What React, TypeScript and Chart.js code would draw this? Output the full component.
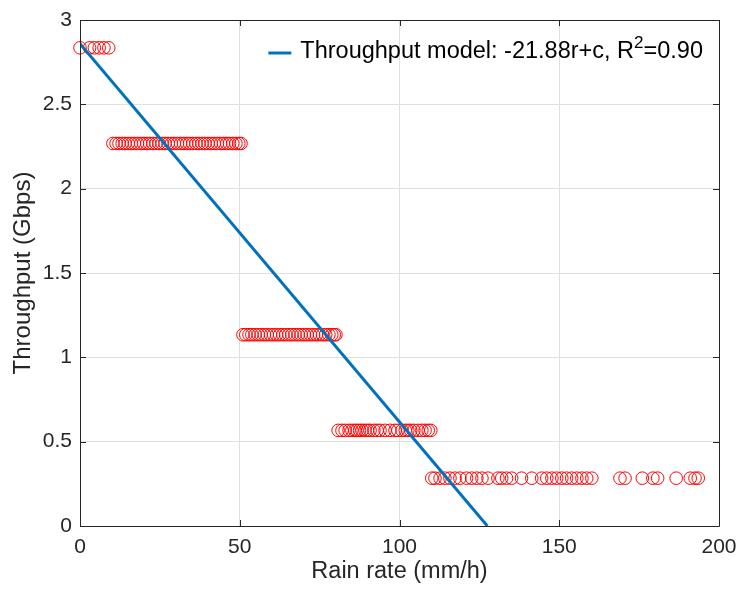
import React, { useEffect, useRef } from "react";
import { Chart, registerables } from "chart.js";

Chart.register(...registerables);

// Discrete throughput levels (Gbps)
const levels = [2.835, 2.268, 1.134, 0.567, 0.2835];

// Rain rates (mm/h) observed at each level
const rainLevel1 = [0, 3, 4.5, 6, 7.5, 9];
const rainLevel2 = [
  10.3, 11.3, 12.2, 13.2, 14.1, 15.1, 16.1, 17, 18, 19, 19.9, 20.9, 21.8, 22.8,
  23.8, 24.7, 25.7, 26.6, 27.6, 28.6, 29.5, 30.5, 31.5, 32.4, 33.4, 34.3, 35.3,
  36.3, 37.2, 38.2, 39.1, 40.1, 41.1, 42, 43, 44, 44.9, 45.9, 46.8, 47.8, 48.8,
  49.7, 50.4,
];
const rainLevel3 = [
  51, 51.9, 52.9, 53.8, 54.8, 55.8, 56.7, 57.7, 58.6, 59.6, 60.6, 61.5, 62.5,
  63.5, 64.4, 65.4, 66.3, 67.3, 68.3, 69.2, 70.2, 71.1, 72.1, 73.1, 74, 75,
  75.9, 76.9, 77.9, 78.8, 79.6, 80.1,
];
const rainLevel4 = [
  80.8, 82, 83, 84.2, 85.1, 86, 86.7, 87.5, 88.3, 89.2, 90, 90.8, 92, 93, 93.9,
  95.5, 97, 98.6, 99.5, 100.8, 101.8, 102.6, 103.5, 104.5, 105.8, 107, 108,
  109, 109.8,
];
const rainLevel5 = [
  110.1, 111.1, 112.7, 114.2, 115.8, 117.4, 118.9, 121, 122.6, 124.2, 125.8,
  127.7, 130.8, 132, 133.5, 135.1, 138.2, 141.4, 144.5, 146.1, 147.7, 149.2,
  150.8, 152.3, 153.9, 155.5, 157.1, 158.6, 160.2, 169, 170.6, 176, 179.3,
  180.8, 186.6, 191, 192.5, 193.5,
];

// Fitted model line end points (rain rate, throughput)
const modelRain = [0, 127.5];
const modelThroughput = [2.86, 0];

const xTicks = [0, 50, 100, 150, 200];
const yTicks = [0, 0.5, 1, 1.5, 2, 2.5, 3];

const legendMain = "Throughput model: -21.88r+c, R";
const legendSup = "2";
const legendTail = "=0.90";

const FONT = "'Liberation Sans', Arial, Helvetica, sans-serif";
const TEXT = "#262626";

const boxPlugin = {
  id: "matlabBox",
  afterDraw(chart: any) {
    const { ctx, chartArea } = chart;
    const { left, right, top, bottom } = chartArea;
    const xs = chart.scales.x;
    const ys = chart.scales.y;
    ctx.save();
    ctx.strokeStyle = TEXT;
    ctx.lineWidth = 1;
    ctx.beginPath();
    ctx.rect(Math.round(left) + 0.5, Math.round(top) + 0.5, Math.round(right - left), Math.round(bottom - top));
    ctx.stroke();
    const tl = 6;
    ctx.beginPath();
    xTicks.forEach((v) => {
      const px = Math.round(xs.getPixelForValue(v)) + 0.5;
      ctx.moveTo(px, bottom);
      ctx.lineTo(px, bottom - tl);
      ctx.moveTo(px, top);
      ctx.lineTo(px, top + tl);
    });
    yTicks.forEach((v) => {
      const py = Math.round(ys.getPixelForValue(v)) + 0.5;
      ctx.moveTo(left, py);
      ctx.lineTo(left + tl, py);
      ctx.moveTo(right, py);
      ctx.lineTo(right - tl, py);
    });
    ctx.stroke();

    // Legend
    const fs = 23.5;
    const mainFont = `${fs}px ${FONT}`;
    const supFont = `${Math.round(fs * 0.72)}px ${FONT}`;
    ctx.font = mainFont;
    const w1 = ctx.measureText(legendMain).width;
    const w3 = ctx.measureText(legendTail).width;
    ctx.font = supFont;
    const w2 = ctx.measureText(legendSup).width;
    const total = w1 + w2 + w3;
    const cy = top + 32;
    const textRight = right - 16;
    const textLeft = textRight - total;
    ctx.strokeStyle = "#0072BD";
    ctx.lineWidth = 3;
    ctx.beginPath();
    ctx.moveTo(textLeft - 32, cy + 1);
    ctx.lineTo(textLeft - 9, cy + 1);
    ctx.stroke();
    ctx.fillStyle = "#000000";
    ctx.textBaseline = "middle";
    ctx.textAlign = "left";
    ctx.font = mainFont;
    ctx.fillText(legendMain, textLeft, cy);
    ctx.font = supFont;
    ctx.fillText(legendSup, textLeft + w1, cy - 9);
    ctx.font = mainFont;
    ctx.fillText(legendTail, textLeft + w1 + w2, cy);
    ctx.restore();
  },
};

export default function App() {
  const ref = useRef<HTMLCanvasElement | null>(null);

  useEffect(() => {
    if (!ref.current) return;
    const groups = [rainLevel1, rainLevel2, rainLevel3, rainLevel4, rainLevel5];
    const points: { x: number; y: number }[] = [];
    groups.forEach((g, i) => g.forEach((r) => points.push({ x: r, y: levels[i] })));
    const line = modelRain.map((r, i) => ({ x: r, y: modelThroughput[i] }));

    const chart = new Chart(ref.current, {
      type: "scatter",
      data: {
        datasets: [
          {
            label: "model",
            data: line,
            showLine: true,
            borderColor: "#0072BD",
            borderWidth: 3,
            pointRadius: 0,
            fill: false,
          } as any,
          {
            label: "measured",
            data: points,
            pointStyle: "circle",
            pointRadius: 6.3,
            borderColor: "#ff0000",
            backgroundColor: "rgba(0,0,0,0)",
            borderWidth: 1,
            clip: false,
          } as any,
        ],
      },
      options: {
        animation: false,
        responsive: false,
        maintainAspectRatio: false,
        devicePixelRatio: 1,
        layout: { padding: { left: 0, right: 21, top: 20, bottom: 0 } },
        plugins: { legend: { display: false }, tooltip: { enabled: false } },
        scales: {
          x: {
            type: "linear",
            min: 0,
            max: 200,
            afterFit: (s: any) => {
              s.height = 66;
              s.paddingLeft = 0;
              s.paddingRight = 0;
            },
            afterBuildTicks: (s: any) => {
              s.ticks = xTicks.map((v) => ({ value: v }));
            },
            ticks: {
              color: TEXT,
              font: { family: FONT, size: 21 },
              padding: 9,
              callback: (v: any) => String(v),
            },
            grid: { color: "#dfdfdf", drawTicks: false },
            border: { display: false },
            title: {
              display: true,
              text: "Rain rate (mm/h)",
              color: TEXT,
              font: { family: FONT, size: 23.5 },
              padding: { top: 0, bottom: 6 },
            },
          },
          y: {
            type: "linear",
            min: 0,
            max: 3,
            afterFit: (s: any) => {
              s.width = 80;
              s.paddingTop = 0;
              s.paddingBottom = 0;
            },
            afterBuildTicks: (s: any) => {
              s.ticks = yTicks.map((v) => ({ value: v }));
            },
            ticks: {
              color: TEXT,
              font: { family: FONT, size: 21 },
              padding: 8,
              callback: (v: any) => String(v),
            },
            grid: { color: "#dfdfdf", drawTicks: false },
            border: { display: false },
            title: {
              display: true,
              text: "Throughput (Gbps)",
              color: TEXT,
              font: { family: FONT, size: 24 },
              padding: { top: 9, bottom: 0 },
            },
          },
        },
      },
      plugins: [boxPlugin],
    });
    return () => chart.destroy();
  }, []);

  return (
    <div style={{ position: "fixed", left: 0, top: 0, width: 740, height: 592, background: "#fff" }}>
      <canvas ref={ref} width={740} height={592} style={{ width: 740, height: 592 }} />
    </div>
  );
}
